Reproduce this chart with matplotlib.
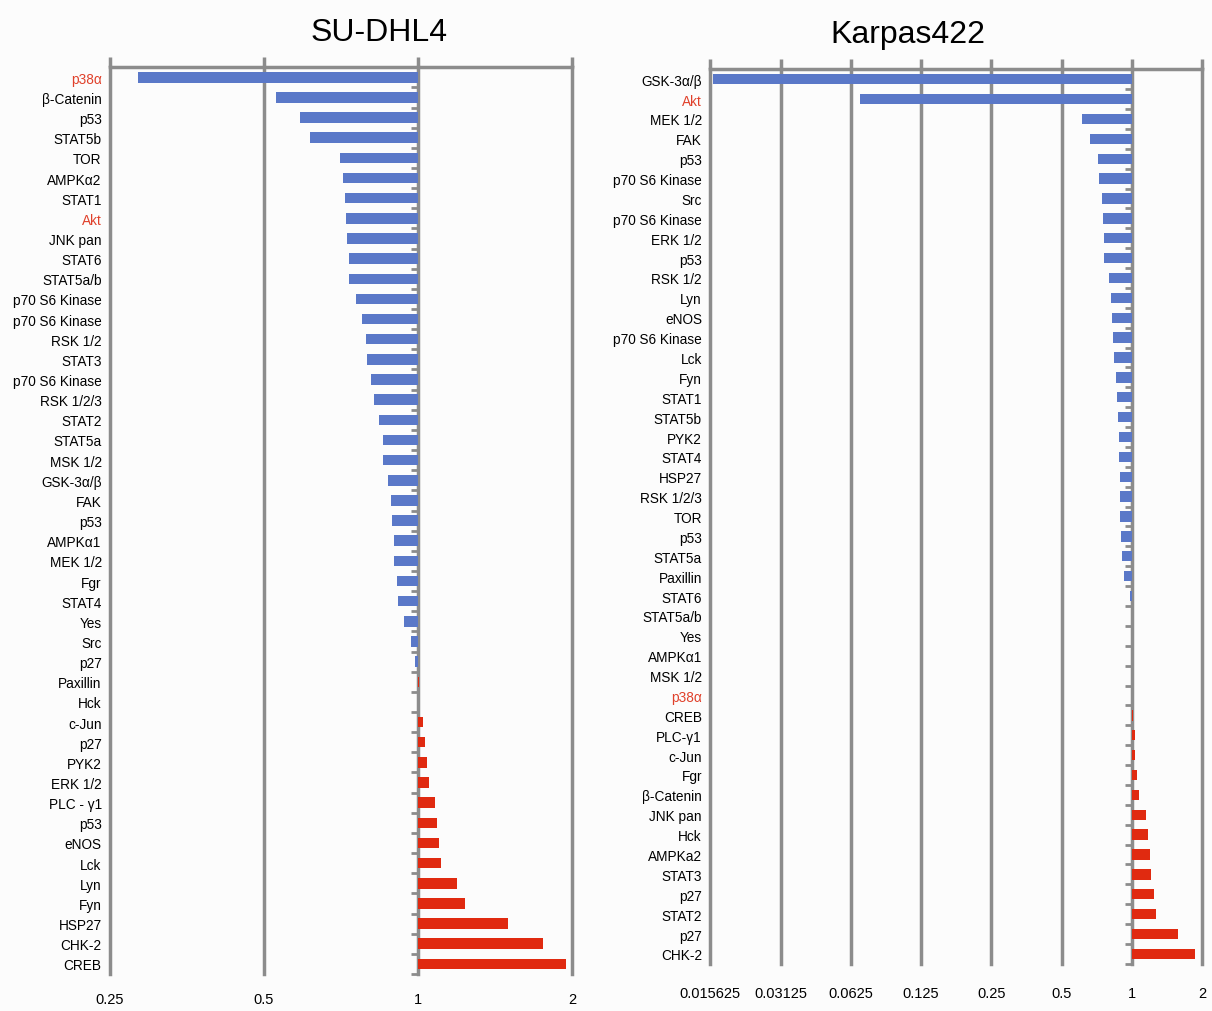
import numpy as np
import matplotlib
matplotlib.use('Agg')
import matplotlib.pyplot as plt
from matplotlib.ticker import FixedLocator, FixedFormatter

plt.rcParams['font.family'] = ['Liberation Sans', 'DejaVu Sans']

# SU-DHL4 kinase ratios (top to bottom)
sudhl4_names = ['p38α', 'β-Catenin', 'p53', 'STAT5b', 'TOR', 'AMPKα2', 'STAT1', 'Akt',
                'JNK pan', 'STAT6', 'STAT5a/b', 'p70 S6 Kinase', 'p70 S6 Kinase', 'RSK 1/2',
                'STAT3', 'p70 S6 Kinase', 'RSK 1/2/3', 'STAT2', 'STAT5a', 'MSK 1/2',
                'GSK-3α/β', 'FAK', 'p53', 'AMPKα1', 'MEK 1/2', 'Fgr', 'STAT4', 'Yes', 'Src',
                'p27', 'Paxillin', 'Hck', 'c-Jun', 'p27', 'PYK2', 'ERK 1/2', 'PLC - γ1',
                'p53', 'eNOS', 'Lck', 'Lyn', 'Fyn', 'HSP27', 'CHK-2', 'CREB']
sudhl4_vals = [0.284, 0.528, 0.588, 0.615, 0.704, 0.714, 0.720, 0.723,
               0.727, 0.733, 0.733, 0.756, 0.777, 0.791,
               0.795, 0.809, 0.820, 0.839, 0.854, 0.854,
               0.874, 0.886, 0.889, 0.898, 0.898, 0.910, 0.914, 0.939, 0.969,
               0.987, 1.004, 1.0, 1.023, 1.032, 1.041, 1.050, 1.079,
               1.089, 1.099, 1.109, 1.192, 1.236, 1.499, 1.755, 1.947]

# Karpas422 kinase ratios (top to bottom)
karpas_names = ['GSK-3α/β', 'Akt', 'MEK 1/2', 'FAK', 'p53', 'p70 S6 Kinase', 'Src',
                'p70 S6 Kinase', 'ERK 1/2', 'p53', 'RSK 1/2', 'Lyn', 'eNOS', 'p70 S6 Kinase',
                'Lck', 'Fyn', 'STAT1', 'STAT5b', 'PYK2', 'STAT4', 'HSP27', 'RSK 1/2/3', 'TOR',
                'p53', 'STAT5a', 'Paxillin', 'STAT6', 'STAT5a/b', 'Yes', 'AMPKα1', 'MSK 1/2',
                'p38α', 'CREB', 'PLC-γ1', 'c-Jun', 'Fgr', 'β-Catenin', 'JNK pan', 'Hck',
                'AMPKa2', 'STAT3', 'p27', 'STAT2', 'p27', 'CHK-2']
karpas_vals = [0.0160, 0.0685, 0.611, 0.661, 0.715, 0.722, 0.744,
               0.751, 0.759, 0.759, 0.797, 0.813, 0.821, 0.829,
               0.837, 0.854, 0.862, 0.871, 0.880, 0.880, 0.888, 0.888, 0.888,
               0.897, 0.906, 0.924, 0.980, 0.996, 1.0, 1.0, 1.0,
               1.0, 1.010, 1.030, 1.030, 1.050, 1.070, 1.148, 1.171,
               1.194, 1.206, 1.243, 1.266, 1.574, 1.861]

highlight = ['p38α', 'Akt']

sudhl4_ticks = [0.25, 0.5, 1, 2]
sudhl4_ticklabels = ['0.25', '0.5', '1', '2']
karpas_ticks = [0.015625, 0.03125, 0.0625, 0.125, 0.25, 0.5, 1, 2]
karpas_ticklabels = ['0.015625', '0.03125', '0.0625', '0.125', '0.25', '0.5', '1', '2']

BLUE = '#5a78c8'
RED = '#e02a10'
GRAY = '#8c8c8c'
TXT_RED = '#e0402a'


def draw_panel(ax, names, vals, ticks, ticklabels, xpad):
    n = len(names)
    y = np.arange(n)
    vals = np.array(vals)
    colors = [BLUE if v < 1 else RED for v in vals]
    ax.set_xscale('log', base=2)
    ax.set_xlim(ticks[0], ticks[-1])
    ax.set_ylim(n - 0.5, -0.5)
    ax.barh(y, vals - 1, left=1, height=0.52, color=colors, zorder=3)

    # vertical lines at each power of two
    for t in ticks:
        ax.axvline(t, color=GRAY, lw=2.5, zorder=1, clip_on=False)
    # category tick marks on the line at 1
    b = np.arange(n + 1) - 0.5
    ax.plot(np.ones(n + 1), b, ls='none', marker=0, ms=5, mew=2, color=GRAY,
            zorder=2, clip_on=False)

    for s in ['left', 'right', 'bottom']:
        ax.spines[s].set_visible(False)
    ax.spines['top'].set_color(GRAY)
    ax.spines['top'].set_linewidth(2.5)

    ax.xaxis.set_major_locator(FixedLocator(ticks))
    ax.xaxis.set_major_formatter(FixedFormatter(ticklabels))
    ax.xaxis.set_minor_locator(FixedLocator([]))
    ax.tick_params(axis='x', which='major', top=True, bottom=False, labelbottom=True,
                   labeltop=False, length=7, width=2.5, color=GRAY, labelsize=10.5, pad=xpad)

    ax.set_yticks(y)
    ax.set_yticklabels(names, fontsize=9.8)
    ax.tick_params(axis='y', length=0, pad=6)
    for lbl in ax.get_yticklabels():
        if lbl.get_text() in highlight:
            lbl.set_color(TXT_RED)
    ax.set_facecolor('#fcfcfc')


fig = plt.figure(figsize=(12.12, 10.12), dpi=100, facecolor='#fcfcfc')
ax1 = fig.add_axes([0.0908, 0.0366, 0.381, 0.896])
ax2 = fig.add_axes([0.586, 0.0466, 0.406, 0.884])

draw_panel(ax1, sudhl4_names, sudhl4_vals, sudhl4_ticks, sudhl4_ticklabels, 6)
draw_panel(ax2, karpas_names, karpas_vals, karpas_ticks, karpas_ticklabels, 9)

fig.text(0.3125, 0.967, 'SU-DHL4', ha='center', va='center', fontsize=23)
fig.text(0.749, 0.965, 'Karpas422', ha='center', va='center', fontsize=23)

fig.savefig('out.png', dpi=100, facecolor=fig.get_facecolor())
